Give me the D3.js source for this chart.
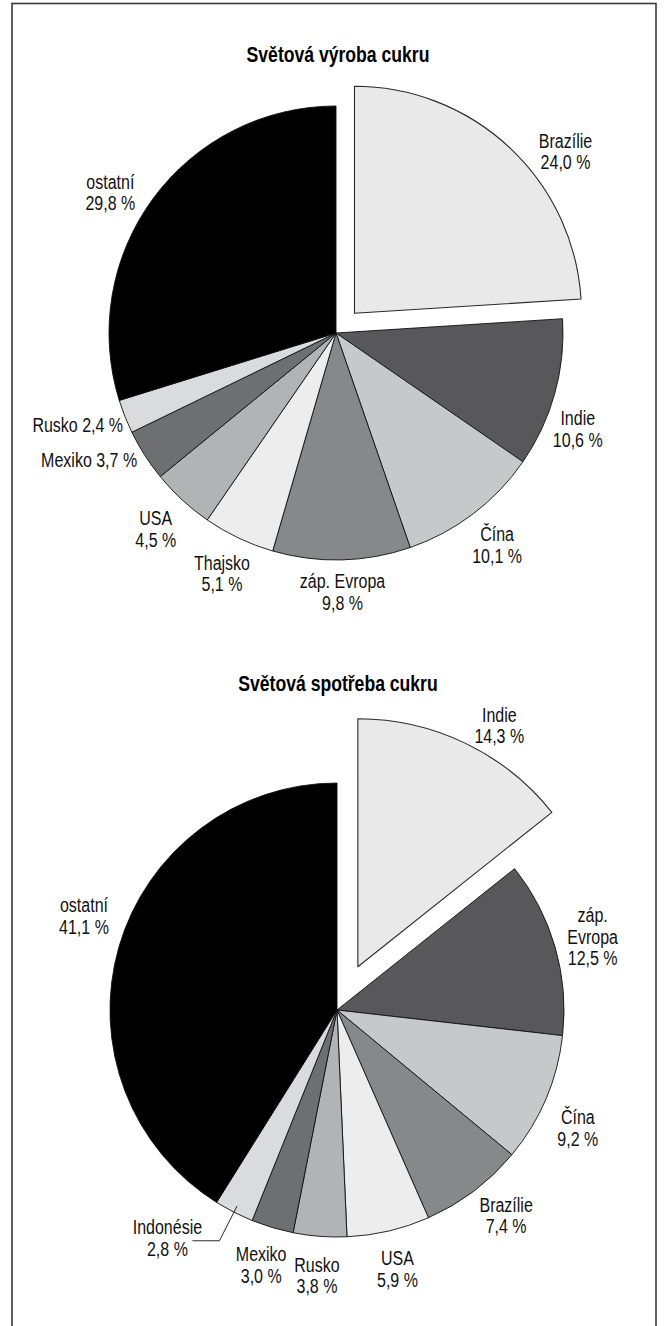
<!DOCTYPE html>
<html>
<head>
<meta charset="utf-8">
<script src="https://cdn.jsdelivr.net/npm/d3@7"></script>
<style>
  html, body { margin: 0; padding: 0; background: #fff; }
  svg { display: block; }
</style>
</head>
<body>
<script>
// World sugar production and consumption, shares in percent
const productionCategories = ["Brazílie", "Indie", "Čína", "záp. Evropa", "Thajsko", "USA", "Mexiko", "Rusko", "ostatní"];
const productionValues = [24.0, 10.6, 10.1, 9.8, 5.1, 4.5, 3.7, 2.4, 29.8];

const consumptionCategories = ["Indie", "záp. Evropa", "Čína", "Brazílie", "USA", "Rusko", "Mexiko", "Indonésie", "ostatní"];
const consumptionValues = [14.3, 12.5, 9.2, 7.4, 5.9, 3.8, 3.0, 2.8, 41.1];

const chartTitles = ["Světová výroba cukru", "Světová spotřeba cukru"];

// grey ramp, applied to slices in clockwise order
const sliceShades = ["#e9e9e9", "#58585a", "#c7c8ca", "#87888a", "#ecedec", "#b2b3b5", "#6e6f71", "#dadbdc", "#000000"];

const W = 667, H = 1326;
const FONT = '"Liberation Sans", Arial, sans-serif';
const NARROW = 0.8;                // horizontal squeeze for a condensed face
const fmtPct = v => d3.format(".1f")(v).replace(".", ",") + " %";

const svg = d3.select("body").append("svg")
  .attr("width", W).attr("height", H)
  .attr("viewBox", `0 0 ${W} ${H}`);

// outer frame (bottom edge runs off the page)
svg.append("rect")
  .attr("x", 12).attr("y", 3.5)
  .attr("width", 644).attr("height", H + 20)
  .attr("fill", "none").attr("stroke", "#3a3a3a").attr("stroke-width", 1.6);

// label placement tweaks per slice (degrees / pixels)
const productionLabelLayout = [
  { nudge: 9.3, radius: 266 },
  { nudge: 6.1, radius: 260 },
  {},
  { radius: 259 },
  {},
  {},
  { mode: "inline", radius: 236 },
  { mode: "inline", radius: 232, nudge: -1.8 },
  { nudge: -4.4 }
];
const consumptionLabelLayout = [
  { nudge: 4.6, radius: 280 },
  { split: true },
  { nudge: 3, radius: 268 },
  { nudge: -2.4 },
  {},
  {},
  {},
  { mode: "leader", r1: 220, r2: 259, run: 27 },
  { nudge: 4.4, radius: 270 }
];

const charts = [
  { title: chartTitles[0], titleY: 54, cx: 336, cy: 333, r: 227,
    categories: productionCategories, values: productionValues,
    explode: { index: 0, offset: 27, radius: 227 },
    layout: productionLabelLayout },
  { title: chartTitles[1], titleY: 683, cx: 337, cy: 1010, r: 227,
    categories: consumptionCategories, values: consumptionValues,
    explode: { index: 0, offset: 48, radius: 248 },
    layout: consumptionLabelLayout }
];

const polar = (a, rad) => [Math.sin(a) * rad, -Math.cos(a) * rad];
const squeeze = (x, y) => `translate(${x},${y}) scale(${NARROW},1)`;

function drawPie(c) {
  svg.append("text")
    .attr("transform", squeeze(338, c.titleY))
    .attr("dy", "0.36em")
    .attr("text-anchor", "middle")
    .attr("font-family", FONT).attr("font-weight", "bold")
    .attr("font-size", "22px").attr("fill", "#000")
    .text(c.title);

  const g = svg.append("g").attr("transform", `translate(${c.cx},${c.cy})`);

  const rows = c.categories.map((name, i) => ({ name, value: c.values[i], i }));
  const pie = d3.pie().sort(null).value(d => d.value).startAngle(0).endAngle(2 * Math.PI);
  const arcs = pie(rows);

  const arcMain = d3.arc().innerRadius(0).outerRadius(c.r);
  const arcOut = d3.arc().innerRadius(0).outerRadius(c.explode.radius);

  const mid = d => (d.startAngle + d.endAngle) / 2;
  const isOut = d => d.index === c.explode.index;
  const shift = d => isOut(d) ? polar(mid(d), c.explode.offset) : [0, 0];

  const ordered = arcs.filter(d => !isOut(d)).concat(arcs.filter(isOut));

  g.selectAll("path.slice").data(ordered).join("path")
    .attr("class", "slice")
    .attr("transform", d => { const s = shift(d); return `translate(${s[0]},${s[1]})`; })
    .attr("d", d => isOut(d) ? arcOut(d) : arcMain(d))
    .attr("fill", d => sliceShades[d.index])
    .attr("stroke", d => isOut(d) ? "#2a2a2a" : "#111")
    .attr("stroke-width", d => isOut(d) ? 1.1 : 0.9)
    .attr("stroke-linejoin", "round");

  const labels = g.append("g")
    .attr("font-family", FONT).attr("font-size", "20px").attr("fill", "#111");

  arcs.forEach(d => {
    const L = c.layout[d.index] || {};
    const s = shift(d);
    const name = d.data.name, val = fmtPct(d.data.value);
    const mode = L.mode || "stack";

    if (mode === "inline") {
      const p = polar(mid(d) + (L.nudge || 0) * Math.PI / 180, L.radius || 236);
      labels.append("text")
        .attr("transform", squeeze(s[0] + p[0], s[1] + p[1]))
        .attr("dy", "0.36em").attr("text-anchor", "end")
        .text(`${name} ${val}`);
      return;
    }

    let cxL, cyL;
    if (mode === "leader") {
      const a = polar(mid(d), L.r1), b = polar(mid(d), L.r2);
      const e = [b[0] - L.run, b[1]];
      g.append("path")
        .attr("d", `M${a[0]},${a[1]}L${b[0]},${b[1]}L${e[0]},${e[1]}`)
        .attr("fill", "none").attr("stroke", "#111").attr("stroke-width", 0.9);
      cxL = e[0] - 25; cyL = e[1] - 3;
    } else {
      const p = polar(mid(d) + (L.nudge || 0) * Math.PI / 180, L.radius || 266);
      cxL = s[0] + p[0]; cyL = s[1] + p[1];
    }

    const lines = L.split ? name.split(" ").concat([val]) : [name, val];
    const step = 21.5;
    const top = cyL - step * (lines.length - 1) / 2;
    const t = labels.append("text")
      .attr("transform", squeeze(cxL, top))
      .attr("text-anchor", "middle");
    lines.forEach((ln, k) => {
      t.append("tspan").attr("x", 0).attr("y", k * step).attr("dy", "0.36em").text(ln);
    });
  });
}

charts.forEach(drawPie);
</script>
</body>
</html>
